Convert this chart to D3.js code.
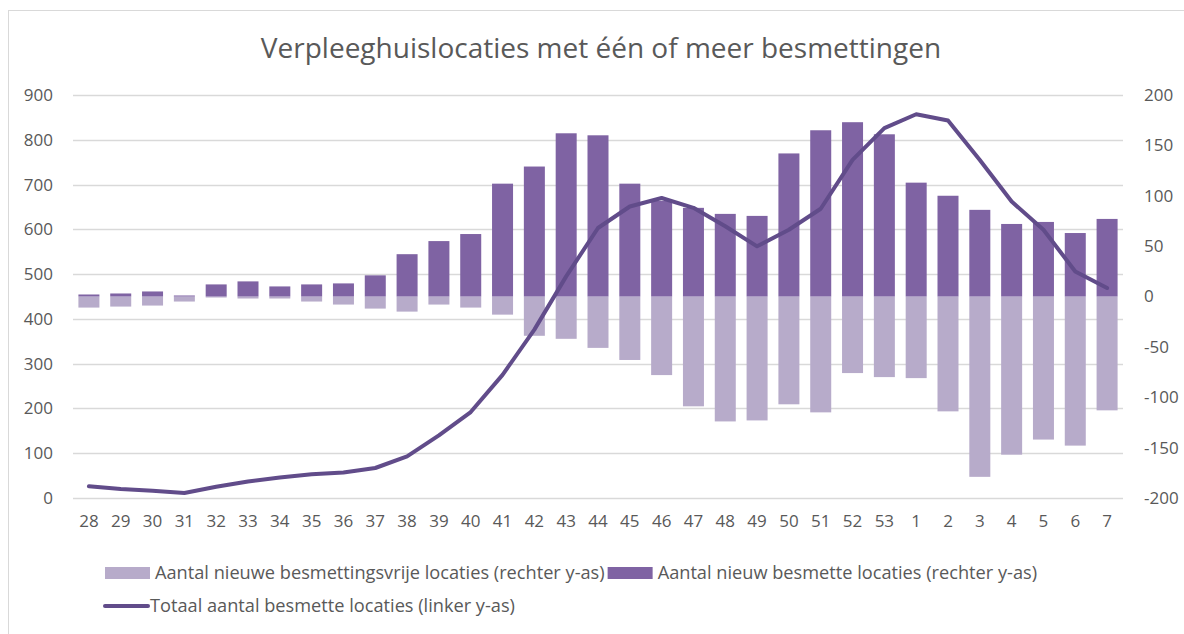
<!DOCTYPE html>
<html>
<head>
<meta charset="utf-8">
<script src="https://cdn.jsdelivr.net/npm/d3@7"></script>
<style>
  body { margin: 0; background: #fff; }
  svg { display: block; font-family: "Open Sans", sans-serif; }
</style>
</head>
<body>
<div id="chart"></div>
<script>
// week numbers (2020 wk 28 .. 2021 wk 7)
var weeks = ["28","29","30","31","32","33","34","35","36","37","38","39","40","41","42","43","44",
             "45","46","47","48","49","50","51","52","53","1","2","3","4","5","6","7"];
// new infected locations (right axis)
var newInfected = [2, 3, 5, 1, 12, 15, 10, 12, 13, 21, 42, 55, 62, 112, 129, 162, 160,
                   112, 95, 88, 82, 80, 142, 165, 173, 161, 113, 100, 86, 72, 74, 63, 77];
// new infection-free locations (right axis, negative)
var newFree = [-11, -10, -9, -5, -1, -2, -2, -5, -8, -12, -15, -8, -11, -18, -39, -42, -51,
               -63, -78, -109, -124, -123, -107, -115, -76, -80, -81, -114, -179, -157, -142, -148, -113];
// total infected locations (left axis)
var totalInfected = [26, 20, 16, 11, 25, 37, 46, 53, 57, 67, 93, 140, 192, 275, 376, 495, 603,
                     651, 670, 648, 607, 562, 599, 646, 755, 826, 857, 843, 755, 662, 599, 506, 469];
var leftTicks = [0, 100, 200, 300, 400, 500, 600, 700, 800, 900];
var rightTicks = [-200, -150, -100, -50, 0, 50, 100, 150, 200];

var svgWidth = 1184;
var svgHeight = 634;
var margin = { top: 95, right: 61, bottom: 136, left: 73 };

var lightColor = "#b7abca";
var darkColor = "#7f63a3";
var lineColor = "#614c8a";
var textColor = "#595959";

var svg = d3.select("#chart")
    .append("svg")
    .attr("width", svgWidth)
    .attr("height", svgHeight);

// outer frame
svg.append("rect")
    .attr("x", 8.5)
    .attr("y", 10.5)
    .attr("width", svgWidth + 10)
    .attr("height", svgHeight + 10)
    .attr("fill", "none")
    .attr("stroke", "#d9d9d9");

// title
svg.append("text")
    .attr("x", 601)
    .attr("y", 58)
    .attr("text-anchor", "middle")
    .attr("fill", textColor)
    .style("font-size", "28px")
    .text("Verpleeghuislocaties met één of meer besmettingen");

var xScale = d3.scaleBand()
    .domain(weeks)
    .range([margin.left, svgWidth - margin.right])
    .paddingInner(0.34)
    .paddingOuter(0.17);

var yLeft = d3.scaleLinear()
    .domain([0, 900])
    .range([svgHeight - margin.bottom, margin.top]);

var yRight = d3.scaleLinear()
    .domain([-200, 200])
    .range([svgHeight - margin.bottom, margin.top]);

// gridlines
svg.append("g")
    .selectAll("line")
    .data(leftTicks)
    .enter()
    .append("line")
    .attr("x1", margin.left)
    .attr("x2", svgWidth - margin.right)
    .attr("y1", (d) => Math.round(yLeft(d)) + 0.5)
    .attr("y2", (d) => Math.round(yLeft(d)) + 0.5)
    .attr("stroke", "#d9d9d9")
    .attr("stroke-width", 1.5);

// bars
svg.append("g")
    .selectAll("rect")
    .data(newFree)
    .enter()
    .append("rect")
    .attr("x", (d, i) => xScale(weeks[i]))
    .attr("width", xScale.bandwidth())
    .attr("y", yRight(0))
    .attr("height", (d) => yRight(d) - yRight(0))
    .attr("fill", lightColor);

svg.append("g")
    .selectAll("rect")
    .data(newInfected)
    .enter()
    .append("rect")
    .attr("x", (d, i) => xScale(weeks[i]))
    .attr("width", xScale.bandwidth())
    .attr("y", (d) => yRight(d))
    .attr("height", (d) => yRight(0) - yRight(d))
    .attr("fill", darkColor);

// line
var line = d3.line()
    .x((d, i) => xScale(weeks[i]) + xScale.bandwidth() / 2)
    .y((d) => yLeft(d));

svg.append("path")
    .datum(totalInfected)
    .attr("d", line)
    .attr("fill", "none")
    .attr("stroke", lineColor)
    .attr("stroke-width", 4)
    .attr("stroke-linecap", "round")
    .attr("stroke-linejoin", "round");

// axes
var xAxis = d3.axisBottom(xScale).tickSize(0).tickPadding(17);
var gx = svg.append("g")
    .attr("transform", "translate(0," + (svgHeight - margin.bottom) + ")")
    .call(xAxis);

var leftAxis = d3.axisLeft(yLeft).tickValues(leftTicks).tickSize(0).tickPadding(20);
var gl = svg.append("g")
    .attr("transform", "translate(" + margin.left + ",0)")
    .call(leftAxis);

// plain hyphen for negatives, like the original
var rightAxis = d3.axisRight(yRight)
    .tickValues(rightTicks)
    .tickFormat((d) => String(d))
    .tickSize(0)
    .tickPadding(21);
var gr = svg.append("g")
    .attr("transform", "translate(" + (svgWidth - margin.right) + ",0)")
    .call(rightAxis);

[gx, gl, gr].forEach(function (g) {
    g.select(".domain").remove();
    g.selectAll("text")
        .attr("fill", textColor)
        .style("font-size", "17px")
        .style("font-family", "'Open Sans', sans-serif");
});

// legend
var legend = svg.append("g").style("font-size", "18.2px");

function legendText(x, y, label) {
    var t = legend.append("text")
        .attr("x", x)
        .attr("y", y)
        .attr("dy", "0.35em")
        .attr("fill", textColor)
        .text(label);
    return x + t.node().getComputedTextLength();
}

legend.append("rect")
    .attr("x", 105).attr("y", 567)
    .attr("width", 45).attr("height", 12)
    .attr("fill", lightColor);
var end1 = legendText(155, 573, "Aantal nieuwe besmettingsvrije locaties (rechter y-as)");

legend.append("rect")
    .attr("x", end1 + 3).attr("y", 567)
    .attr("width", 45).attr("height", 12)
    .attr("fill", darkColor);
legendText(end1 + 53, 573, "Aantal nieuw besmette locaties (rechter y-as)");

legend.append("line")
    .attr("x1", 105).attr("x2", 148)
    .attr("y1", 606).attr("y2", 606)
    .attr("stroke", lineColor)
    .attr("stroke-width", 4)
    .attr("stroke-linecap", "round");
legendText(150, 606, "Totaal aantal besmette locaties (linker y-as)");
</script>
</body>
</html>
